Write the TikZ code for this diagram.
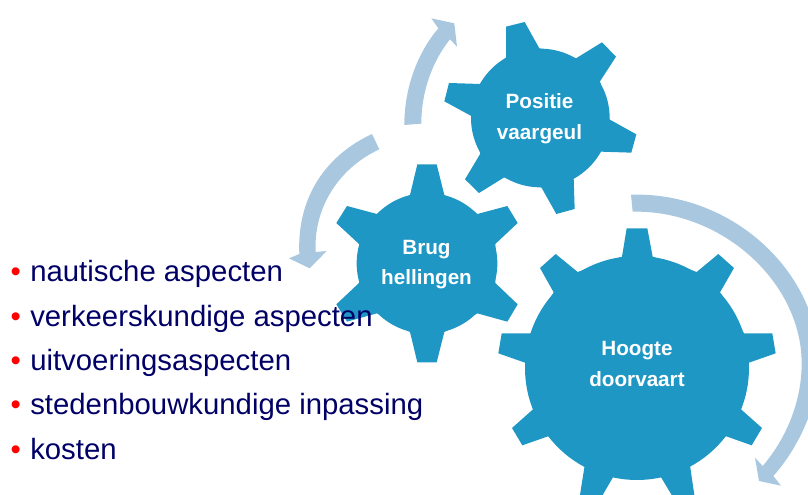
\documentclass[tikz,border=0pt]{standalone}
\usepackage{fontspec}
\setmainfont{Liberation Sans}
\definecolor{gearblue}{HTML}{1F97C5}
\definecolor{arrowblue}{HTML}{A9C8DF}
\definecolor{navytext}{HTML}{000066}
\tikzset{
  gear/.style={fill=gearblue,draw=none},
  cyclearrow/.style={fill=arrowblue,draw=none},
  gearlabel/.style={text=white,font=\fontsize{15.5}{23}\selectfont\bfseries,align=center,inner sep=0pt},
  itemtext/.style={text=navytext,font=\fontsize{22}{26}\selectfont,anchor=base west,inner sep=0pt},
  itembullet/.style={text=red,font=\fontsize{22}{26}\selectfont,anchor=base,inner sep=0pt},
  zoomA/.style={shift={(400,0)},x=.25pt,y=-.25pt},
  zoomB/.style={shift={(280,130)},x=.25pt,y=-.25pt},
  zoomC/.style={shift={(490,190)},x=.25pt,y=-.25pt}
}
\begin{document}
\begin{tikzpicture}[x=.75pt,y=-.75pt]
\useasboundingbox (0,0) rectangle (808,495);
\clip (0,0) rectangle (808,495);
% Positie gear
\begin{scope}[zoomA]
\fill[gear] (421,354) circle (208);
\fill[gear] (318,80)--(374,66)--(418,145)--(528,175)--(606,127)--(648,170)--(600,244)--(628,358)--(709,403)--(694,458)--(603,455)--(521,533)--(524,627)--(469,642)--(424,562)--(313,532)--(237,579)--(195,538)--(241,461)--(214,348)--(133,304)--(147,249)--(241,252)--(318,172)--cycle;
\fill[cyclearrow] (13,375) .. controls (13,260) and (55,155) .. (115,85) -- (94,55) -- (163,70) -- (171,140) -- (150,118) .. controls (100,180) and (64,270) .. (64,371) -- cycle;
\end{scope}
% Brug gear
\begin{scope}[zoomB]
\fill[gear] (441,400) circle (211);
\fill[gear] (412,103)--(470,103)--(493,195)--(592,252)--(682,228)--(713,279)--(646,342)--(646,459)--(713,523)--(682,575)--(592,550)--(493,606)--(470,697)--(412,697)--(390,606)--(291,550)--(201,575)--(169,523)--(237,459)--(237,342)--(169,279)--(201,228)--(291,252)--(390,195)--cycle;
\fill[cyclearrow] (276,12) .. controls (140,75) and (50,200) .. (58,372) -- (27,385) -- (89,415) -- (140,363) -- (107,366) .. controls (100,235) and (175,115) .. (298,58) -- cycle;
\end{scope}
% Hoogte gear
\begin{scope}[zoomC]
\fill[gear] (441,534) circle (336);
\fill[gear] (410,115)--(472,115)--(488,200)--(620,246)--(685,192)--(732,234)--(690,307)--(762,430)--(847,430)--(857,490)--(777,518)--(753,658)--(816,714)--(785,766)--(706,738)--(600,826)--(613,915)--(545,915)--(512,860)--(370,860)--(338,915)--(270,915)--(284,826)--(177,738)--(97,766)--(66,714)--(129,658)--(105,518)--(25,490)--(35,430)--(122,430)--(191,307)--(150,234)--(197,192)--(263,246)--(396,200)--cycle;
\fill[cyclearrow] (423,14) .. controls (730,5) and (987,250) .. (987,520) .. controls (987,650) and (920,780) .. (850,858) -- (873,887) -- (807,873) -- (795,803) -- (818,828) .. controls (885,750) and (935,640) .. (935,520) .. controls (935,280) and (700,60) .. (428,65) -- cycle;
\end{scope}
% gear labels
\node[gearlabel] (positie) at (539.5,118.5) {Positie\\vaargeul};
\node[gearlabel] (brug) at (426.5,264.5) {Brug\\hellingen};
\node[gearlabel] (hoogte) at (637,364) {Hoogte\\doorvaart};
% list
\node[itembullet] (b1) at (15.7,282) {•};
\node[itemtext] (t1) at (30,282) {nautische aspecten};
\node[itembullet] (b2) at (15.7,326.5) {•};
\node[itemtext] (t2) at (30,326.5) {verkeerskundige aspecten};
\node[itembullet] (b3) at (15.7,370.5) {•};
\node[itemtext] (t3) at (30,370.5) {uitvoeringsaspecten};
\node[itembullet] (b4) at (15.7,415) {•};
\node[itemtext] (t4) at (30,415) {stedenbouwkundige inpassing};
\node[itembullet] (b5) at (15.7,459.5) {•};
\node[itemtext] (t5) at (30,459.5) {kosten};
\end{tikzpicture}
\end{document}
